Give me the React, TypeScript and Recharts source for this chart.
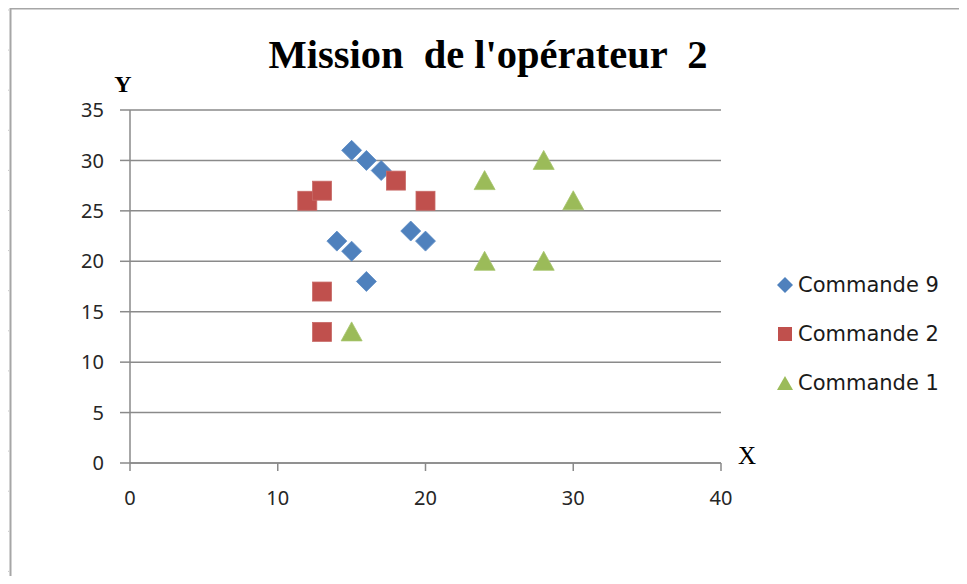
import React from 'react';
import { ScatterChart, Scatter, XAxis, YAxis, CartesianGrid } from 'recharts';

const commande9X = [15, 16, 17, 14, 15, 19, 20, 16];
const commande9Y = [31, 30, 29, 22, 21, 23, 22, 18];
const commande2X = [12, 13, 18, 20, 13, 13];
const commande2Y = [26, 27, 28, 26, 17, 13];
const commande1X = [24, 28, 30, 24, 28, 15];
const commande1Y = [28, 30, 26, 20, 20, 13];
const xTicks = [0, 10, 20, 30, 40];
const yTicks = [0, 5, 10, 15, 20, 25, 30, 35];
const seriesNames = ['Commande 9', 'Commande 2', 'Commande 1'];

const BLUE = '#4F81BD';
const RED = '#C0504D';
const GREEN = '#9BBB59';

const toPoints = (xs: number[], ys: number[]) => xs.map((x, i) => ({ x, y: ys[i] }));
const data9 = toPoints(commande9X, commande9Y);
const data2 = toPoints(commande2X, commande2Y);
const data1 = toPoints(commande1X, commande1Y);

const Diamond = (props: any) => {
  const { cx, cy } = props;
  const r = 10;
  return (
    <path
      d={`M${cx},${cy - r} L${cx + r},${cy} L${cx},${cy + r} L${cx - r},${cy} Z`}
      fill={BLUE}
      stroke="#5b8ac4"
      strokeWidth={0.8}
    />
  );
};

const Square = (props: any) => {
  const { cx, cy } = props;
  const h = 9.5;
  return <rect x={cx - h} y={cy - h} width={2 * h} height={2 * h} fill={RED} stroke="#c86a67" strokeWidth={0.8} />;
};

const Triangle = (props: any) => {
  const { cx, cy } = props;
  const w = 10.5;
  return (
    <path
      d={`M${cx},${cy - 10} L${cx + w},${cy + 9} L${cx - w},${cy + 9} Z`}
      fill={GREEN}
      stroke="#a6c46c"
      strokeWidth={0.8}
    />
  );
};

const legendIcons = [
  <path d="M8,0 L16,8 L8,16 L0,8 Z" fill={BLUE} />,
  <rect x={1} y={1} width={14} height={14} fill={RED} />,
  <path d="M8,1 L16,15 L0,15 Z" fill={GREEN} />,
];

const LegendBox = () => (
  <div
    style={{
      position: 'absolute',
      left: 777,
      top: 260,
      fontFamily: '"DejaVu Sans", sans-serif',
      fontSize: 21,
      color: '#1a1a1a',
    }}
  >
    {seriesNames.map((n, i) => (
      <div key={n} style={{ display: 'flex', alignItems: 'center', height: 49 }}>
        <svg width={16} height={16} style={{ marginRight: 5 }}>
          {legendIcons[i]}
        </svg>
        <span>{n}</span>
      </div>
    ))}
  </div>
);

const leftTicks = Array.from({ length: 15 }, (_, i) => 10 + i * 40.1);
const topTicks = [105, 265, 425, 585, 745, 905];

const tickStyle = { fill: '#262626', fontSize: 20, fontFamily: '"Noto Sans", sans-serif' };

export default function App() {
  return (
    <div style={{ position: 'relative', width: 967, height: 584, margin: -8, background: '#fff', overflow: 'hidden' }}>
      <svg width={967} height={584} style={{ position: 'absolute', left: 0, top: 0 }}>
        {leftTicks.map((y) => (
          <line key={'l' + y} x1={1} x2={9} y1={y} y2={y} stroke="#c8c8c8" strokeWidth={1} />
        ))}
        {topTicks.map((x) => (
          <line key={'t' + x} x1={x} x2={x} y1={1} y2={7} stroke="#c8c8c8" strokeWidth={1} />
        ))}
        <line x1={10} x2={967} y1={8.5} y2={8.5} stroke="#a6a6a6" strokeWidth={2} />
        <line x1={10.5} x2={10.5} y1={8} y2={584} stroke="#a6a6a6" strokeWidth={2} />
        <text
          x={488}
          y={68}
          textAnchor="middle"
          fontFamily='"Liberation Serif", serif'
          fontWeight="bold"
          fontSize={40.5}
          fill="#000"
          style={{ whiteSpace: 'pre' }}
        >
          {"Mission  de l'opérateur  2"}
        </text>
        <text x={123} y={92} textAnchor="middle" fontFamily='"Liberation Serif", serif' fontWeight="bold" fontSize={24} fill="#000">
          Y
        </text>
        <text x={747} y={464} textAnchor="middle" fontFamily='"Liberation Serif", serif' fontSize={25} fill="#000">
          X
        </text>
      </svg>
      <div style={{ position: 'absolute', left: 0, top: 0 }}>
        <ScatterChart width={967} height={584} margin={{ top: 110, right: 246, bottom: 0, left: 0 }}>
          <CartesianGrid horizontal={true} vertical={false} stroke="#8a8a8a" strokeWidth={1.5} />
          <XAxis
            type="number"
            dataKey="x"
            domain={[0, 40]}
            ticks={xTicks}
            tickSize={8}
            tickMargin={20}
            height={121}
            stroke="#8a8a8a"
            strokeWidth={1.5}
            tick={tickStyle}
          />
          <YAxis
            type="number"
            dataKey="y"
            domain={[0, 35]}
            ticks={yTicks}
            width={130}
            tickSize={10}
            tickMargin={16}
            stroke="#8a8a8a"
            strokeWidth={1.5}
            tick={tickStyle}
          />
          <Scatter name={seriesNames[0]} data={data9} shape={Diamond} fill={BLUE} isAnimationActive={false} />
          <Scatter name={seriesNames[1]} data={data2} shape={Square} fill={RED} isAnimationActive={false} />
          <Scatter name={seriesNames[2]} data={data1} shape={Triangle} fill={GREEN} isAnimationActive={false} />
        </ScatterChart>
      </div>
      <LegendBox />
    </div>
  );
}
